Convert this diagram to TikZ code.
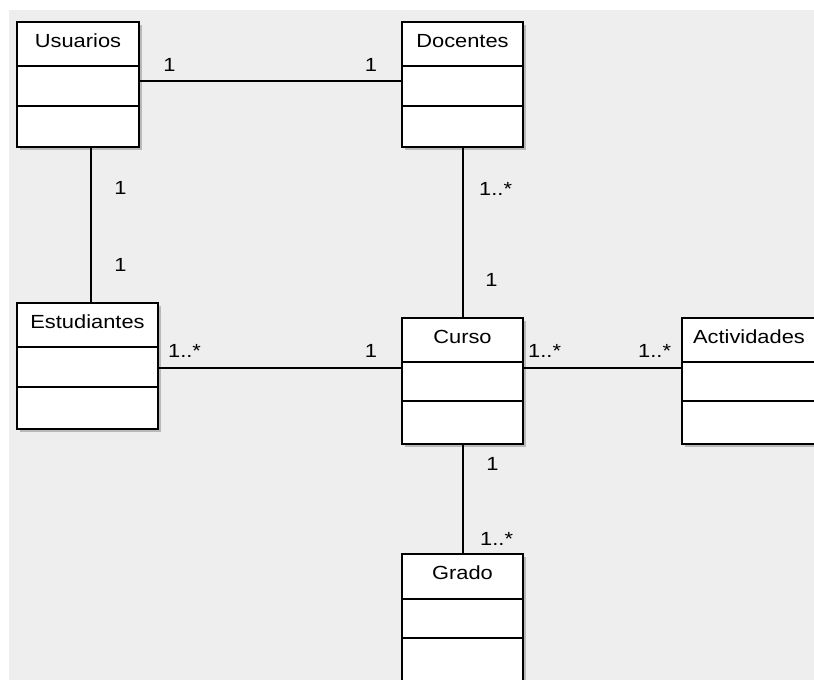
\documentclass[tikz,border=0pt]{standalone}
\usepackage{fontspec}
\setmainfont{Liberation Sans}[FakeStretch=1.15]
\usetikzlibrary{shadows}
\definecolor{bggray}{HTML}{EEEEEE}
\tikzset{
  classbox/.style={draw=black, line width=2pt, fill=white, inner sep=0pt, anchor=north west,
    drop shadow={shadow xshift=2.5pt, shadow yshift=-2.5pt, fill=black, opacity=0.22}},
  divider/.style={line width=1.6pt, black},
  conn/.style={line width=1.7pt, black},
  ctitle/.style={anchor=base, inner sep=0pt, font=\fontsize{19}{22}\selectfont},
  mult/.style={anchor=base, inner sep=0pt, font=\fontsize{19}{22}\selectfont},
  multw/.style={anchor=base west, inner sep=0pt, font=\fontsize{19}{22}\selectfont}
}
\newcommand\umlclass[8]{%
  \node[classbox, minimum width=#4pt, minimum height=#5pt] (#1) at (#2,#3) {};
  \draw[divider] ([yshift=-#6pt]#1.north west) -- ([yshift=-#6pt]#1.north east);
  \draw[divider] ([yshift=-#7pt]#1.north west) -- ([yshift=-#7pt]#1.north east);
  \node[ctitle] (#1-t) at ([yshift=-26pt]#1.north) {#8};
}
\begin{document}
\begin{tikzpicture}[x=1pt, y=-1pt]
\useasboundingbox (0,0) rectangle (814,680);
\fill[white] (0,0) rectangle (814,680);
\fill[bggray] (9,10) rectangle (816,682);

\umlclass{usu}{16}{21}{122}{125}{45}{85}{Usuarios}
\umlclass{doc}{401}{21}{121}{125}{45}{85}{Docentes}
\umlclass{est}{16}{302}{141}{126}{45}{85}{Estudiantes}
\umlclass{cur}{401}{317}{121}{126}{45}{84}{Curso}
\umlclass{act}{681}{317}{134}{126}{45}{84}{Actividades}
\umlclass{gra}{401}{553}{121}{137}{46}{85}{Grado}

% connectors
\coordinate (c1) at ([shift={(-2pt,3.5pt)}]usu.east);
\draw[conn] (c1) -- (c1 -| doc.west);
\coordinate (c2) at ([xshift=13pt]usu.south);
\draw[conn] (c2) -- (c2 |- est.north);
\coordinate (c5) at ([xshift=0.5pt]doc.south);
\draw[conn] (c5) -- (c5 |- cur.north);
\coordinate (c3) at ([shift={(-2pt,-1.7pt)}]est.east);
\draw[conn] (c3) -- (c3 -| cur.west);
\coordinate (c4) at ([shift={(-2pt,13.3pt)}]cur.east);
\draw[conn] (c4) -- (c4 -| act.west);
\coordinate (c6) at ([xshift=0.5pt]cur.south);
\draw[conn] (c6) -- (c6 |- gra.north);

% multiplicities
\node[mult] (m1) at (169.5,71) {1};
\node[mult] (m2) at (371,71) {1};
\node[mult] (m3) at (120.5,194) {1};
\node[mult] (m4) at (120.5,271) {1};
\node[multw] (m5) at (479,195) {1..*};
\node[mult] (m6) at (491.5,286) {1};
\node[multw] (m7) at (168,357) {1..*};
\node[mult] (m8) at (371,357) {1};
\node[multw] (m9) at (528,357) {1..*};
\node[multw] (m10) at (638,357) {1..*};
\node[mult] (m11) at (492.5,470) {1};
\node[multw] (m12) at (480,545) {1..*};
\end{tikzpicture}
\end{document}
